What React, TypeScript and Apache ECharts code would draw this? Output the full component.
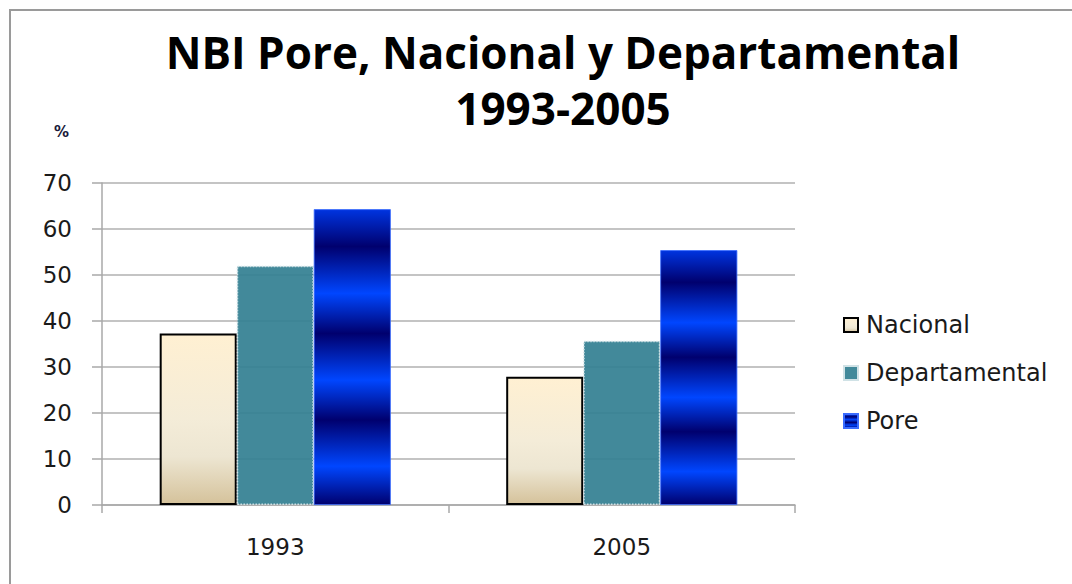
import React, { useEffect, useRef } from "react";
import * as echarts from "echarts";

const categories = ["1993", "2005"];
const nacional = [37.3, 27.9];
const departamental = [52.0, 35.7];
const pore = [64.3, 55.4];
const seriesNames = ["Nacional", "Departamental", "Pore"];
const titleLines = ["NBI Pore, Nacional y Departamental", "1993-2005"];
const yMin = 0;
const yMax = 70;
const yInterval = 10;

const DARK = "#00006e";
const BRIGHT = "#0046ff";

export default function App() {
  const ref = useRef<HTMLDivElement>(null);
  useEffect(() => {
    if (!ref.current) return;
    const chart = echarts.init(ref.current, undefined, { renderer: "svg" });
    const nacGrad = new echarts.graphic.LinearGradient(0, 0, 0, 1, [
      { offset: 0, color: "#fff0d2" },
      { offset: 0.5, color: "#f4ecd8" },
      { offset: 0.72, color: "#ede6d2" },
      { offset: 1, color: "#d5c29b" },
    ]);
    const poreGrad = new echarts.graphic.LinearGradient(0, 0, 0, 1, [
      { offset: 0, color: "#0034e0" },
      { offset: 0.125, color: DARK },
      { offset: 0.284, color: BRIGHT },
      { offset: 0.42, color: DARK },
      { offset: 0.578, color: BRIGHT },
      { offset: 0.713, color: DARK },
      { offset: 0.87, color: BRIGHT },
      { offset: 1, color: DARK },
    ]);
    const poreLegendGrad = new echarts.graphic.LinearGradient(0, 0, 0, 1, [
      { offset: 0, color: BRIGHT },
      { offset: 0.2, color: DARK },
      { offset: 0.4, color: BRIGHT },
      { offset: 0.6, color: DARK },
      { offset: 0.8, color: BRIGHT },
      { offset: 1, color: DARK },
    ]);
    const labelFont = {
      fontFamily: "DejaVu Sans",
      fontSize: 23,
      color: "#1a1a1a",
    };
    chart.setOption({
      animation: false,
      backgroundColor: "#ffffff",
      title: {
        text: titleLines.join("\n"),
        left: 558,
        top: 19,
        textAlign: "center",
        textStyle: {
          fontFamily: "Open Sans",
          fontWeight: "bold",
          fontSize: 44,
          lineHeight: 56,
          color: "#000000",
        },
      },
      graphic: [
        {
          type: "rect",
          shape: { x: 10, y: 10, width: 1200, height: 1000 },
          style: { fill: "none", stroke: "#9a9a9a", lineWidth: 2 },
          silent: true,
        },
        {
          type: "text",
          left: 54,
          top: 124,
          style: {
            text: "%",
            font: "bold 15px 'DejaVu Sans'",
            fill: "#1a1a3a",
          },
        },
      ],
      legend: {
        orient: "vertical",
        left: 838,
        top: 303,
        itemWidth: 14,
        itemHeight: 14,
        itemGap: 14,
        itemStyle: { opacity: 1 },
        textStyle: {
          ...labelFont,
          fontSize: 24,
          lineHeight: 34,
          padding: [0, 0, 0, 3],
        },
        data: [
          { name: seriesNames[0], icon: "rect" },
          { name: seriesNames[1], icon: "rect" },
          { name: seriesNames[2], icon: "rect", itemStyle: { color: poreLegendGrad } },
        ],
      },
      grid: { left: 102, right: 277, top: 183, bottom: 79 },
      xAxis: {
        type: "category",
        data: categories,
        axisLine: { lineStyle: { color: "#a8a8a8", width: 1.5 } },
        axisTick: { show: true, length: 8, lineStyle: { color: "#a8a8a8", width: 1.5 } },
        axisLabel: { margin: 30, ...labelFont },
      },
      yAxis: {
        type: "value",
        min: yMin,
        max: yMax,
        interval: yInterval,
        axisLine: { show: true, lineStyle: { color: "#a8a8a8", width: 1.5 } },
        axisTick: { show: true, length: 10, lineStyle: { color: "#a8a8a8", width: 1.5 } },
        splitLine: { lineStyle: { color: "#b0b0b0", width: 1.5 } },
        axisLabel: { margin: 30, ...labelFont },
      },
      series: [
        {
          name: seriesNames[0],
          type: "bar",
          data: nacional,
          barGap: "0%",
          barCategoryGap: "33.3%",
          itemStyle: { color: nacGrad, borderColor: "#000000", borderWidth: 2 },
        },
        {
          name: seriesNames[1],
          type: "bar",
          data: departamental,
          barGap: "0%",
          barCategoryGap: "33.3%",
          itemStyle: {
            color: "rgba(52,128,146,0.93)",
            borderColor: "#d0e2e6",
            borderWidth: 1.5,
            borderType: "dotted",
          },
        },
        {
          name: seriesNames[2],
          type: "bar",
          data: pore,
          barGap: "0%",
          barCategoryGap: "33.3%",
          itemStyle: { color: poreGrad, borderColor: "#3a6cff", borderWidth: 0.8 },
        },
      ],
    });
    return () => chart.dispose();
  }, []);
  return (
    <div
      ref={ref}
      style={{ position: "absolute", left: 0, top: 0, width: 1072, height: 584 }}
    />
  );
}
